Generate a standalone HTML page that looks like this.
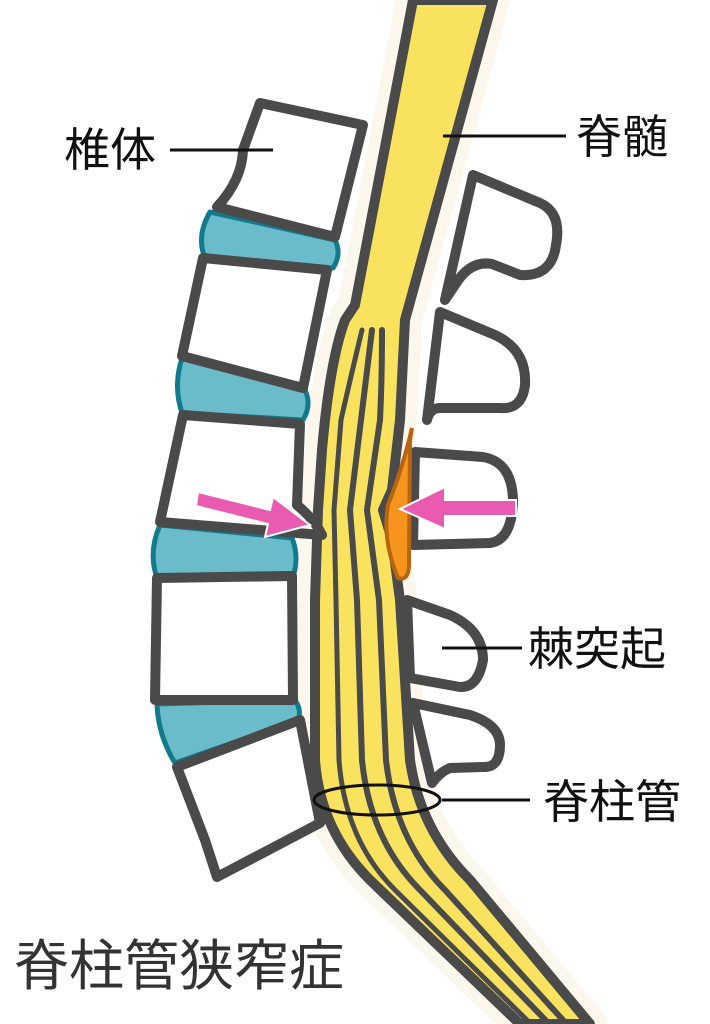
<!DOCTYPE html>
<html><head><meta charset="utf-8"><style>
html,body{margin:0;padding:0;background:#fff;}
svg{display:block}
text{font-family:"Liberation Sans","Noto Sans CJK JP",sans-serif;fill:#111}
</style></head><body>
<svg width="710" height="1024" viewBox="0 0 710 1024" xmlns="http://www.w3.org/2000/svg">
<path d="M413,0 L355,305 L345,320 Q330,360 322,450 L318,510 L315,600 L315,760 Q320,830 370,880 L520,1024 L590,1024 L470,880 Q420,830 410,760 L400,600 L392,540 L383,510 L392,490 L400,420 L405,320 L493,0 Z" fill="#fbf7ec" stroke="#fbf7ec" stroke-width="34" stroke-linejoin="round"/>
<path d="M413,0 L355,305 L345,320 Q330,360 322,450 L318,510 L315,600 L315,760 Q320,830 370,880 L520,1024 L590,1024 L470,880 Q420,830 410,760 L400,600 L392,540 L383,510 L392,490 L400,420 L405,320 L493,0 Z" fill="#f9e25e" stroke="#4a4a4a" stroke-width="10" stroke-linejoin="round"/>
<g fill="none" stroke="#4a4a4a" stroke-linecap="round">
<path d="M362,330 Q350,380 341,420 L334,510 L336,600 L339,760 Q345,840 395,890 L537,1030" stroke-width="5"/>
<path d="M372,330 Q366,380 361,420 L350,510 L357,600 L362,760 Q370,840 420,890 L555,1030" stroke-width="6"/>
<path d="M382,330 Q382,380 380,420 L367,510 L379,600 L386,760 Q395,840 445,890 L572,1030" stroke-width="6"/>
</g>
<g stroke-linejoin="round">
<path d="M210,212 L335,240 Q342,254 333,268 L205,258 Q196,236 210,212 Z" fill="#6bbccb" stroke="#117a8c" stroke-width="5"/>
<path d="M182,358 L305,390 Q312,405 303,420 L182,413 Q173,386 182,358 Z" fill="#6bbccb" stroke="#117a8c" stroke-width="5"/>
<path d="M160,525 L292,538 Q300,558 292,580 L157,578 Q148,552 160,525 Z" fill="#6bbccb" stroke="#117a8c" stroke-width="5"/>
<path d="M157,704 L295,700 Q302,710 298,720 L175,763 Q158,735 157,704 Z" fill="#6bbccb" stroke="#117a8c" stroke-width="5"/>
<g fill="#fff" stroke="#4a4a4a" stroke-width="10">
<path d="M260,103 L363,125 L335,237 L217,207 Q242,180 243,150 Z"/>
<path d="M203,258 L327,270 L303,388 L182,356 Z"/>
<path d="M183,415 L300,424 L297,505 Q315,520 322,535 L160,522 Z"/>
<path d="M157,578 L292,576 L293,700 L155,700 Z"/>
<path d="M177,767 L300,720 L320,823 L217,877 L205,840 Z"/>
</g>
<g fill="#fff" stroke="#4a4a4a" stroke-width="10">
<path d="M473,175 L540,203 Q562,213 556,245 Q552,277 520,275 L492,264 Q470,260 455,285 L445,300 Z"/>
<path d="M440,312 L495,335 Q527,350 525,385 Q522,410 500,408 L440,408 Q430,408 427,420 Z"/>
<path d="M415,452 L483,457 Q512,462 513,500 Q512,540 490,543 L413,545 Z"/>
<path d="M407,600 L450,615 Q483,630 483,660 Q478,688 460,687 L410,678 Z"/>
<path d="M413,703 L470,715 Q500,725 500,745 Q500,768 483,767 L450,768 Q440,772 432,783 Z"/>
</g>
</g>
<path d="M412,428 Q402,470 388,505 Q382,540 398,578 Q410,582 409,560 L410,440 Z" fill="#f7941d" stroke="#b8650f" stroke-width="4"/>
<g fill="#e85bb0" stroke="#fff" stroke-width="2">
<path d="M198,492 L270,510 L273,497 L310,525 L265,537 L268,524 L196,506 Z"/>
<path d="M516,500 L445,500 L445,487 L400,509 L445,529 L445,516 L516,516 Z"/>
</g>
<ellipse cx="377" cy="800" rx="63" ry="15" fill="none" stroke="#111" stroke-width="3"/>
<g stroke="#111" stroke-width="3">
<line x1="170" y1="150" x2="273" y2="150"/>
<line x1="443" y1="136" x2="566" y2="136"/>
<line x1="442" y1="648" x2="522" y2="648"/>
<line x1="442" y1="800" x2="530" y2="800"/>
</g>
<text x="64" y="166" font-size="46">椎体</text>
<text x="576" y="153" font-size="46">脊髄</text>
<text x="528" y="665" font-size="46">棘突起</text>
<text x="543" y="818" font-size="46">脊柱管</text>
<text x="14" y="985" font-size="55" style="fill:#333">脊柱管狭窄症</text>
</svg>
</body></html>
